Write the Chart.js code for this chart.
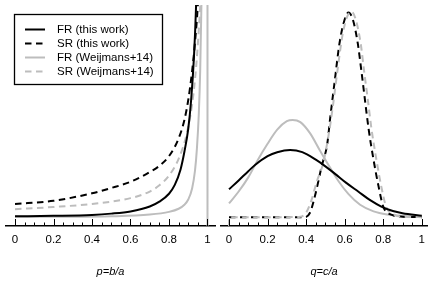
<!DOCTYPE html>
<html>
<head>
<meta charset="utf-8">
<script src="https://cdn.jsdelivr.net/npm/chart.js@4"></script>
<style>
  body { margin: 0; background: #fff; }
  #wrap { position: relative; width: 436px; height: 288px; }
  canvas { position: absolute; top: 0; }
  #leftChart { left: 0; }
  #rightChart { left: 218px; }
</style>
</head>
<body>
<div id="wrap">
  <canvas id="leftChart" width="218" height="288"></canvas>
  <canvas id="rightChart" width="218" height="288"></canvas>
</div>
<script>
// tick labels
const tickValues = [0, 0.2, 0.4, 0.6, 0.8, 1]
const tickLabels = ['0', '0.2', '0.4', '0.6', '0.8', '1']
const seriesNames = ['FR (this work)', 'SR (this work)', 'FR (Weijmans+14)', 'SR (Weijmans+14)']

// left panel, p = b/a
const pFrThis = [0, 0.2, 0.4, 0.5, 0.6, 0.7, 0.75, 0.8, 0.83, 0.86, 0.88, 0.9, 0.915, 0.93, 0.94, 0.95]
const frThisP = [0.22, 0.23, 0.25, 0.28, 0.33, 0.44, 0.55, 0.73, 0.93, 1.28, 1.68, 2.2, 2.85, 3.85, 4.9, 6.5]
const pSrThis = [0, 0.2, 0.4, 0.5, 0.6, 0.7, 0.75, 0.8, 0.85, 0.88, 0.9, 0.92, 0.935, 0.95, 0.965]
const srThisP = [0.5, 0.57, 0.74, 0.86, 1.0, 1.22, 1.36, 1.58, 1.98, 2.4, 2.85, 3.5, 4.15, 5.0, 6.2]
const pFrW14 = [0, 0.3, 0.5, 0.7, 0.8, 0.85, 0.88, 0.9, 0.92, 0.935, 0.945, 0.955, 0.962, 0.968, 0.975, 1, 1]
const frW14P = [0.21, 0.21, 0.22, 0.26, 0.32, 0.39, 0.48, 0.6, 0.85, 1.25, 1.75, 2.55, 3.5, 4.9, 7, 9, 0]
const pSrW14 = [0, 0.2, 0.4, 0.6, 0.7, 0.75, 0.8, 0.85, 0.89, 0.92, 0.94, 0.955, 0.965, 0.975]
const srW14P = [0.38, 0.43, 0.5, 0.63, 0.78, 0.92, 1.14, 1.52, 2.05, 2.75, 3.55, 4.45, 5.2, 6.2]

// right panel, q = c/a
const qFrThis = [0, 0.05, 0.1, 0.135, 0.2, 0.25, 0.317, 0.38, 0.45, 0.5, 0.55, 0.61, 0.67, 0.73, 0.79, 0.85, 0.9, 1]
const frThisQ = [0.83, 1.03, 1.24, 1.38, 1.58, 1.67, 1.72, 1.67, 1.5, 1.35, 1.18, 0.97, 0.78, 0.59, 0.44, 0.34, 0.29, 0.23]
const qSrThis = [0, 0.3, 0.39, 0.42, 0.447, 0.48, 0.51, 0.525, 0.547, 0.573, 0.599, 0.62, 0.643, 0.668, 0.686, 0.703, 0.724, 0.75, 0.776, 0.8, 0.845, 0.9, 1]
const srThisQ = [0.2, 0.2, 0.2, 0.3, 0.7, 1.34, 1.87, 2.45, 3.23, 4.13, 4.66, 4.83, 4.66, 4.13, 3.53, 2.93, 2.2, 1.49, 0.89, 0.44, 0.25, 0.21, 0.2]
const qFrW14 = [0, 0.05, 0.1, 0.15, 0.2, 0.25, 0.3, 0.33, 0.37, 0.42, 0.47, 0.52, 0.57, 0.62, 0.68, 0.75, 0.82, 0.9, 1]
const frW14Q = [0.51, 0.78, 1.1, 1.5, 1.86, 2.18, 2.37, 2.4, 2.35, 2.1, 1.72, 1.35, 1.0, 0.72, 0.48, 0.33, 0.26, 0.23, 0.22]
const qSrW14 = [0, 0, 0.3, 0.37, 0.4, 0.425, 0.455, 0.49, 0.52, 0.54, 0.562, 0.588, 0.614, 0.635, 0.658, 0.683, 0.7, 0.718, 0.739, 0.765, 0.79, 0.815, 0.86, 0.9, 1]
const srW14Q = [0, 0.2, 0.2, 0.21, 0.3, 0.55, 1.0, 1.45, 2.15, 2.75, 3.5, 4.3, 4.75, 4.85, 4.66, 4.13, 3.53, 2.93, 2.2, 1.49, 0.89, 0.44, 0.25, 0.21, 0.2]

Chart.defaults.font.family = '"Liberation Sans", Arial, sans-serif'
Chart.defaults.font.size = 11
Chart.defaults.color = '#000'

const grey = '#bdbdbd'

function pts(xs, ys){
    return xs.map((x, i) => ({x: x, y: ys[i]}))
}

function makeSets(fr, sr, frw, srw){
    const base = {pointRadius: 0, borderWidth: 2, fill: false, cubicInterpolationMode: 'monotone'}
    return [
        Object.assign({label: seriesNames[0], data: fr, borderColor: '#000', order: 0}, base),
        Object.assign({label: seriesNames[1], data: sr, borderColor: '#000', borderDash: [6.5, 4.5], order: 2}, base),
        Object.assign({label: seriesNames[2], data: frw, borderColor: grey, order: 3}, base),
        Object.assign({label: seriesNames[3], data: srw, borderColor: grey, borderDash: [6.5, 4.5], order: 1}, base),
    ]
}

// inward ticks along the x axis
const innerTicks = {
    id: 'innerTicks',
    afterDraw(chart){
        const ctx = chart.ctx
        const sx = chart.scales.x
        const y0 = chart.chartArea.bottom
        ctx.save()
        ctx.strokeStyle = '#000'
        ctx.lineWidth = 1
        for (let i = 0; i <= 20; i++){
            const px = Math.round(sx.getPixelForValue(i / 20)) + 0.5
            const len = i % 4 === 0 ? 7 : 3.5
            ctx.beginPath()
            ctx.moveTo(px, y0)
            ctx.lineTo(px, y0 - len)
            ctx.stroke()
        }
        ctx.restore()
    }
}

// boxed legend in the top left of the first panel
const boxLegend = {
    id: 'boxLegend',
    afterDraw(chart){
        const ctx = chart.ctx
        ctx.save()
        ctx.fillStyle = '#fff'
        ctx.fillRect(14, 14, 148, 70)
        ctx.strokeStyle = '#000'
        ctx.lineWidth = 1.3
        ctx.strokeRect(14.5, 14.5, 148, 70)
        ctx.font = '11.5px "Liberation Sans", Arial, sans-serif'
        ctx.textBaseline = 'middle'
        chart.data.datasets.forEach((ds, i) => {
            const y = 29.5 + i * 14
            ctx.strokeStyle = ds.borderColor
            ctx.lineWidth = 2
            ctx.setLineDash(ds.borderDash || [])
            ctx.beginPath()
            ctx.moveTo(25, y)
            ctx.lineTo(45, y)
            ctx.stroke()
            ctx.setLineDash([])
            ctx.fillStyle = '#000'
            ctx.fillText(ds.label, 57, y + 0.5)
        })
        ctx.restore()
    }
}

function panel(el, sets, title, xmin, xmax, pad, plugins){
    return new Chart(el.getContext('2d'), {
        type: 'line',
        data: {datasets: sets},
        options: {
            responsive: false,
            animation: false,
            layout: {padding: pad},
            plugins: {legend: {display: false}, tooltip: {enabled: false}},
            scales: {
                x: {
                    type: 'linear',
                    min: xmin,
                    max: xmax,
                    afterBuildTicks: s => { s.ticks = tickValues.map(v => ({value: v})) },
                    afterFit: s => { s.height = 62 },
                    grid: {display: false, drawTicks: false},
                    border: {display: true, color: '#000', width: 1.5},
                    ticks: {
                        padding: 7,
                        maxRotation: 0,
                        autoSkip: false,
                        font: {size: 11.5},
                        callback: (v, i) => tickLabels[i]
                    },
                    title: {
                        display: true,
                        text: title,
                        font: {style: 'italic', size: 11},
                        padding: {top: 0, bottom: 9}
                    }
                },
                y: {display: false, min: 0, max: 5}
            }
        },
        plugins: plugins
    })
}

panel(document.getElementById('leftChart'),
    makeSets(pts(pFrThis, frThisP), pts(pSrThis, srThisP), pts(pFrW14, frW14P), pts(pSrW14, srW14P)),
    'p=b/a', -0.0468, 1.039, {left: 6, right: 3, top: 5, bottom: 0}, [innerTicks, boxLegend])

panel(document.getElementById('rightChart'),
    makeSets(pts(qFrThis, frThisQ), pts(qSrThis, srThisQ), pts(qFrW14, frW14Q), pts(qSrW14, srW14Q)),
    'q=c/a', -0.0416, 1.027, {left: 3, right: 9, top: 5, bottom: 0}, [innerTicks])
</script>
</body>
</html>
